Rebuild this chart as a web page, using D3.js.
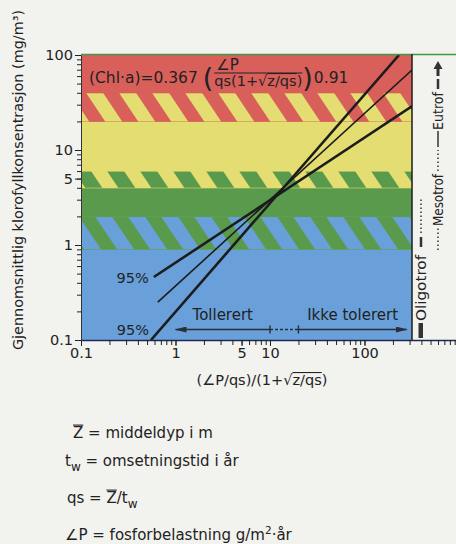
<!DOCTYPE html>
<html>
<head>
<meta charset="utf-8">
<script src="https://cdn.jsdelivr.net/npm/d3@7"></script>
<style>
    body { margin: 0; background: #f2f2ef; }
    svg { display: block; font-family: "DejaVu Sans", sans-serif; fill: #222; }
    svg text { white-space: pre; }
</style>
</head>
<body>
<svg id="chart" width="456" height="544"></svg>
<script>
// values
const bandLimits = [0.1, 0.9, 2, 4, 6, 20, 40, 100];
// one entry per band between two limits, striped zones are "upper|lower"
const bandNames = ['blue', 'green|blue', 'green', 'yellow|green', 'yellow', 'red|yellow', 'red'];

const upper95 = [[0.59, 0.46], [320, 29]];
const meanLine = [[0.65, 0.25], [320, 70]];
const lower95 = [[0.55, 0.1], [232, 100]];

const tolerated = [1, 10];
const gapRange = [10, 20];
const notTolerated = [20, 280];

const xTickValues = [0.1, 1, 5, 10, 100];
const yTickValues = [0.1, 1, 5, 10, 100];

// styles
const colours = { red: '#d85f5a', yellow: '#e4dd72', green: '#5a9a4c', blue: '#69a0da' };
const stripePhase = { 'green|blue': 14, 'yellow|green': 26, 'red|yellow': 5 };
const ink = '#1c1c1c';

const plot = { left: 81, right: 412, top: 55, bottom: 340 };

const svg = d3.select('#chart');

const x = d3.scaleLog().domain([0.1, 1000]).range([plot.left, plot.left + 378]);
const y = d3.scaleLog().domain([0.1, 100]).range([plot.bottom, plot.top]);

const defs = svg.append('defs');
defs.append('clipPath')
    .attr('id', 'plotClip')
    .append('rect')
    .attr('x', plot.left)
    .attr('y', plot.top)
    .attr('width', plot.right - plot.left)
    .attr('height', plot.bottom - plot.top);

defs.append('marker')
    .attr('id', 'arrowHead')
    .attr('viewBox', '0 0 12 6')
    .attr('refX', 11)
    .attr('refY', 3)
    .attr('markerWidth', 12)
    .attr('markerHeight', 6)
    .attr('markerUnits', 'userSpaceOnUse')
    .attr('orient', 'auto-start-reverse')
    .append('path')
    .attr('d', 'M0,0 L12,3 L0,6 Z')
    .attr('fill', '#2a2f3a');

const bands = svg.append('g').attr('clip-path', 'url(#plotClip)');

// colour bands
bandNames.forEach((name, i) => {
    const lo = bandLimits[i];
    const hi = bandLimits[i + 1];
    const y1 = y(hi);
    const y2 = y(lo);
    const parts = name.split('|');

    bands.append('rect')
        .attr('x', plot.left)
        .attr('y', y1)
        .attr('width', plot.right - plot.left)
        .attr('height', y2 - y1 + 0.5)
        .attr('fill', colours[parts[0]]);

    if (parts.length === 2) {
        // slanted stripes of the lower colour running into the upper one
        const slant = 0.67 * (y2 - y1);
        const starts = d3.range(plot.left - 66 + stripePhase[name], plot.right + 10, 33);
        bands.selectAll(null)
            .data(starts)
            .enter()
            .append('path')
            .attr('d', s => `M${s},${y1} L${s + 17},${y1} L${s + 17 + slant},${y2} L${s + slant},${y2} Z`)
            .attr('fill', colours[parts[1]]);
    }
});

// regression line and 95% limits
const line = d3.line()
    .x(d => x(d[0]))
    .y(d => y(d[1]));

const lines = svg.append('g').attr('clip-path', 'url(#plotClip)');
[[upper95, 2.6], [meanLine, 1.6], [lower95, 2.6]].forEach(([data, width]) => {
    lines.append('path')
        .datum(data)
        .attr('fill', 'none')
        .attr('stroke', ink)
        .attr('stroke-width', width)
        .attr('d', line);
});

svg.append('text')
    .attr('x', x(upper95[0][0]) - 5)
    .attr('y', y(upper95[0][1]) + 6)
    .attr('text-anchor', 'end')
    .style('font-size', '14.5px')
    .text('95%');

svg.append('text')
    .attr('x', x(lower95[0][0]) - 2)
    .attr('y', y(lower95[0][1]) - 5)
    .attr('text-anchor', 'end')
    .style('font-size', '14.5px')
    .text('95%');

// tolerance arrows
const arrowY = 329.5;
const arrowColour = '#2a2f3a';
svg.append('line')
    .attr('x1', x(tolerated[0])).attr('x2', x(tolerated[1]))
    .attr('y1', arrowY).attr('y2', arrowY)
    .attr('stroke', arrowColour).attr('stroke-width', 1.6)
    .attr('marker-start', 'url(#arrowHead)');
svg.append('line')
    .attr('x1', x(gapRange[0])).attr('x2', x(gapRange[1]))
    .attr('y1', arrowY).attr('y2', arrowY)
    .attr('stroke', arrowColour).attr('stroke-width', 1.4)
    .attr('stroke-dasharray', '3,2');
svg.append('line')
    .attr('x1', x(notTolerated[0])).attr('x2', x(notTolerated[1]))
    .attr('y1', arrowY).attr('y2', arrowY)
    .attr('stroke', arrowColour).attr('stroke-width', 1.6)
    .attr('marker-end', 'url(#arrowHead)');
[tolerated[1], notTolerated[0]].forEach(v => {
    svg.append('line')
        .attr('x1', x(v)).attr('x2', x(v))
        .attr('y1', arrowY - 4).attr('y2', arrowY + 4)
        .attr('stroke', arrowColour).attr('stroke-width', 1.4);
});

svg.append('text')
    .attr('x', x(Math.sqrt(tolerated[0] * tolerated[1])))
    .attr('y', 320)
    .attr('text-anchor', 'middle')
    .style('font-size', '15px')
    .text('Tollerert');

svg.append('text')
    .attr('x', x(Math.sqrt(notTolerated[0] * notTolerated[1])))
    .attr('y', 320)
    .attr('text-anchor', 'middle')
    .style('font-size', '15px')
    .text('Ikke tolerert');

// frame lines
svg.append('line')
    .attr('x1', plot.left).attr('x2', 456)
    .attr('y1', plot.top - 0.5).attr('y2', plot.top - 0.5)
    .attr('stroke', '#3f9a4a').attr('stroke-width', 1.5);
svg.append('line')
    .attr('x1', plot.right).attr('x2', plot.right)
    .attr('y1', plot.top - 1).attr('y2', plot.bottom)
    .attr('stroke', ink).attr('stroke-width', 1.5);

// axes
const xMinor = svg.append('g')
    .attr('transform', `translate(0,${plot.bottom})`)
    .call(d3.axisBottom(x).tickValues(x.ticks()).tickSize(5).tickSizeOuter(0).tickFormat(''));
xMinor.select('.domain').attr('stroke', '#1d2a55').attr('stroke-width', 1.6);

const xMajor = svg.append('g')
    .attr('transform', `translate(0,${plot.bottom})`)
    .call(d3.axisBottom(x).tickValues(xTickValues).tickSize(6).tickPadding(2).tickFormat(d3.format('~g')));
xMajor.select('.domain').remove();
xMajor.selectAll('text').style('font-size', '14.5px').attr('fill', '#222').style('font-family', '"DejaVu Sans", sans-serif');

const yMinor = svg.append('g')
    .attr('transform', `translate(${plot.left},0)`)
    .call(d3.axisLeft(y).tickValues(y.ticks()).tickSize(4).tickSizeOuter(0).tickFormat(''));
yMinor.select('.domain').attr('stroke', '#333').attr('stroke-width', 1);

const yMajor = svg.append('g')
    .attr('transform', `translate(${plot.left},0)`)
    .call(d3.axisLeft(y).tickValues(yTickValues).tickSize(6).tickPadding(2).tickFormat(d3.format('~g')));
yMajor.select('.domain').remove();
yMajor.selectAll('text').style('font-size', '14.5px').attr('fill', '#222').style('font-family', '"DejaVu Sans", sans-serif');

svg.selectAll('.tick line').attr('stroke', '#222');

svg.append('text')
    .attr('transform', 'translate(23,180) rotate(-90)')
    .attr('text-anchor', 'middle')
    .style('font-size', '14.4px')
    .text('Gjennomsnittlig klorofyllkonsentrasjon (mg/m³)');

// inline typesetting of text pieces with overlines, sub- and superscripts
function typeset(parent, x0, y0, parts, fs) {
    let cx = x0;
    parts.forEach(p => {
        const size = p.fs || fs;
        const t = parent.append('text')
            .attr('x', cx)
            .attr('y', y0 + (p.dy || 0))
            .style('font-size', size + 'px')
            .text(p.t);
        const w = t.node().getComputedTextLength();
        if (p.over) {
            const oy = y0 + (p.dy || 0) - size * 0.86;
            parent.append('line')
                .attr('x1', cx + (p.overStart || 0)).attr('x2', cx + w)
                .attr('y1', oy).attr('y2', oy)
                .attr('stroke', '#222').attr('stroke-width', 1.1);
        }
        cx += w + (p.gap || 0);
    });
    return cx;
}

// x axis title, centred
const xTitle = svg.append('g');
const xTitleEnd = typeset(xTitle, 0, 0, [
    { t: '(∠P/qs)/(1+' },
    { t: '√' },
    { t: 'z/qs', over: true },
    { t: ')' }
], 14.5);
xTitle.attr('transform', `translate(${262 - xTitleEnd / 2},385)`);

// formula in the plot
const formula = svg.append('g');
let fx = typeset(formula, 89, 83, [{ t: '(Chl·a)=0.367 ' }], 15.5);
fx = typeset(formula, fx, 87, [{ t: '(', fs: 27 }], 15.5);
const denomStart = fx + 1;
typeset(formula, denomStart + 2, 70, [{ t: '∠P' }], 15);
const denomEnd = typeset(formula, denomStart, 86, [
    { t: 'qs(1+' },
    { t: '√' },
    { t: 'z/qs', over: true },
    { t: ')' }
], 14.5);
formula.append('line')
    .attr('x1', denomStart).attr('x2', denomEnd)
    .attr('y1', 73).attr('y2', 73)
    .attr('stroke', '#222').attr('stroke-width', 1.2);
fx = typeset(formula, denomEnd, 87, [{ t: ')', fs: 27 }], 15.5);
typeset(formula, fx + 1, 83, [{ t: '0.91' }], 15.5);

// explanation below the chart
const notes = svg.append('g');
typeset(notes, 73, 438, [{ t: 'Z', over: true }, { t: ' = middeldyp i m' }], 15);
typeset(notes, 65, 466, [{ t: 't' }, { t: 'w', fs: 12, dy: 5 }, { t: ' = omsetningstid i år' }], 15);
typeset(notes, 67, 503, [{ t: 'qs = ' }, { t: 'Z', over: true }, { t: '/t' }, { t: 'w', fs: 12, dy: 5 }], 15);
typeset(notes, 65, 540, [{ t: '∠P = fosforbelastning g/m' }, { t: '2', fs: 10.5, dy: -6 }, { t: '·år' }], 15);

// trophic scale on the right, written bottom to top
const scaleColour = '#333';
const col1 = svg.append('g').attr('transform', 'translate(426,338) rotate(-90)');
col1.append('rect').attr('x', 0).attr('y', -7.5).attr('width', 15).attr('height', 4.5).attr('fill', scaleColour);
col1.append('text').attr('x', 17).attr('y', 0).attr('textLength', 66).attr('lengthAdjust', 'spacingAndGlyphs')
    .style('font-size', '14px').text('Oligotrof');
col1.append('line').attr('x1', 91).attr('x2', 101).attr('y1', -5).attr('y2', -5)
    .attr('stroke', scaleColour).attr('stroke-width', 2.5);
col1.append('line').attr('x1', 105).attr('x2', 141).attr('y1', -5).attr('y2', -5)
    .attr('stroke', scaleColour).attr('stroke-width', 1.5).attr('stroke-dasharray', '1.5,2.5');

const col2 = svg.append('g').attr('transform', 'translate(443,338) rotate(-90)');
col2.append('line').attr('x1', 88).attr('x2', 110).attr('y1', -5).attr('y2', -5)
    .attr('stroke', scaleColour).attr('stroke-width', 1.5).attr('stroke-dasharray', '1.5,2.5');
col2.append('text').attr('x', 112).attr('y', 0).attr('textLength', 52).attr('lengthAdjust', 'spacingAndGlyphs')
    .style('font-size', '13.5px').text('Mesotrof');
col2.append('line').attr('x1', 167).attr('x2', 188).attr('y1', -5).attr('y2', -5)
    .attr('stroke', scaleColour).attr('stroke-width', 1.5).attr('stroke-dasharray', '1.5,2.5');
col2.append('line').attr('x1', 191).attr('x2', 207).attr('y1', -5).attr('y2', -5)
    .attr('stroke', scaleColour).attr('stroke-width', 1.5);
col2.append('text').attr('x', 208).attr('y', 0).attr('textLength', 38).attr('lengthAdjust', 'spacingAndGlyphs')
    .style('font-size', '13.5px').text('Eutrof');
col2.append('line').attr('x1', 249).attr('x2', 259).attr('y1', -5).attr('y2', -5)
    .attr('stroke', scaleColour).attr('stroke-width', 2.5);
col2.append('path')
    .attr('d', 'M262,-6.5 L269,-6.5 L269,-9.5 L277,-5 L269,-0.5 L269,-3.5 L262,-3.5 Z')
    .attr('fill', scaleColour);
</script>
</body>
</html>
